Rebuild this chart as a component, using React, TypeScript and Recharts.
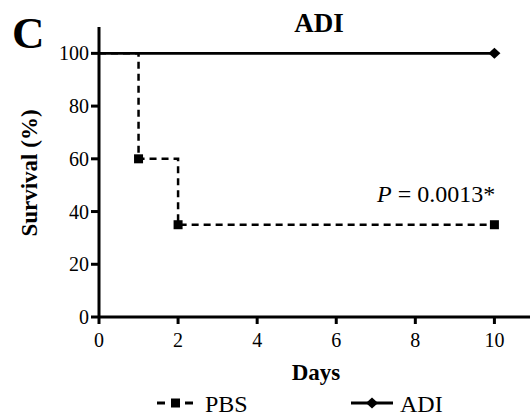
import React from "react";
import { LineChart, Line, XAxis, YAxis, Legend } from "recharts";

const pbsDays = [0, 1, 2, 10];
const pbsSurvival = [100, 60, 35, 35];
const adiDays = [0, 10];
const adiSurvival = [100, 100];
const xTicks = [0, 2, 4, 6, 8, 10];
const yTicks = [0, 20, 40, 60, 80, 100];

const pbsData = pbsDays.map((d, i) => ({ day: d, survival: pbsSurvival[i] }));
const adiData = adiDays.map((d, i) => ({ day: d, survival: adiSurvival[i] }));

const FONT = "Liberation Serif";

const SquareDot = (props: any) => {
  const { cx, cy, index } = props;
  if (index === 0 || cx == null) return <g key={`s${index}`} />;
  return <rect key={`s${index}`} x={cx - 4.5} y={cy - 4.5} width={9} height={9} fill="#000" />;
};

const DiamondDot = (props: any) => {
  const { cx, cy, index } = props;
  if (index === 0 || cx == null) return <g key={`d${index}`} />;
  return (
    <path
      key={`d${index}`}
      d={`M${cx - 6},${cy} L${cx},${cy - 5.5} L${cx + 6},${cy} L${cx},${cy + 5.5} Z`}
      fill="#000"
    />
  );
};

const LegendContent = () => (
  <svg width={530} height={40} style={{ display: "block" }}>
    <g>
      <line x1={157} y1={18} x2={165} y2={18} stroke="#000" strokeWidth={3} />
      <rect x={171} y={13.5} width={9} height={9} fill="#000" />
      <line x1={185} y1={18} x2={193} y2={18} stroke="#000" strokeWidth={3} />
      <text x={205} y={27} style={{ fontFamily: FONT, fontSize: 24 }} fill="#000">PBS</text>
    </g>
    <g>
      <line x1={351} y1={18} x2={393} y2={18} stroke="#000" strokeWidth={3} />
      <path d="M366,18 L372,12.5 L378,18 L372,23.5 Z" fill="#000" />
      <text x={400} y={27} style={{ fontFamily: FONT, fontSize: 24 }} fill="#000">ADI</text>
    </g>
  </svg>
);

export default function App() {
  return (
    <div style={{ position: "absolute", left: 0, top: 0, width: 530, height: 420, background: "#fff", fontFamily: FONT }}>
      <LineChart
        width={530}
        height={420}
        margin={{ top: 27, right: 0, bottom: 0, left: 0 }}
        style={{ fontFamily: FONT }}
      >
        <XAxis
          type="number"
          dataKey="day"
          domain={[0, 10.9]}
          ticks={xTicks}
          allowDataOverflow
          axisLine={{ stroke: "#000", strokeWidth: 3 }}
          tickLine={{ stroke: "#000", strokeWidth: 3 }}
          tickSize={7}
          tickMargin={9}
          tick={{ fill: "#000", fontSize: 20, style: { fontFamily: FONT } }}
          height={63}
        />
        <YAxis
          type="number"
          domain={[0, 110]}
          ticks={yTicks}
          allowDataOverflow
          axisLine={{ stroke: "#000", strokeWidth: 3 }}
          tickLine={{ stroke: "#000", strokeWidth: 3 }}
          tickSize={8}
          tickMargin={2}
          tick={{ fill: "#000", fontSize: 20, style: { fontFamily: FONT } }}
          width={99}
        />
        <Line
          data={pbsData}
          dataKey="survival"
          name="PBS"
          type="stepAfter"
          stroke="#000"
          strokeWidth={2.5}
          strokeDasharray="7 5"
          dot={SquareDot}
          activeDot={false}
          isAnimationActive={false}
        />
        <Line
          data={adiData}
          dataKey="survival"
          name="ADI"
          type="stepAfter"
          stroke="#000"
          strokeWidth={2.7}
          dot={DiamondDot}
          activeDot={false}
          isAnimationActive={false}
        />
        <Legend
          content={<LegendContent />}
          wrapperStyle={{ position: "absolute", left: 0, top: 385, width: 530, height: 40 }}
        />
      </LineChart>
      <svg
        width={530}
        height={420}
        style={{ position: "absolute", left: 0, top: 0, pointerEvents: "none" }}
      >
        <text x={12} y={48} style={{ fontFamily: FONT, fontSize: 45, fontWeight: "bold" }} fill="#000">C</text>
        <text x={319} y={32} style={{ fontFamily: FONT, fontSize: 27, fontWeight: "bold" }} fill="#000" textAnchor="middle">ADI</text>
        <text x={377} y={202} style={{ fontFamily: FONT, fontSize: 24 }} fill="#000">
          <tspan fontStyle="italic">P</tspan> = 0.0013*
        </text>
        <text x={316} y={380} style={{ fontFamily: FONT, fontSize: 23, fontWeight: "bold" }} fill="#000" textAnchor="middle">Days</text>
        <text
          x={37}
          y={173}
          style={{ fontFamily: FONT, fontSize: 23, fontWeight: "bold" }}
          fill="#000"
          textAnchor="middle"
          transform="rotate(-90 37 173)"
        >
          Survival (%)
        </text>
      </svg>
    </div>
  );
}
